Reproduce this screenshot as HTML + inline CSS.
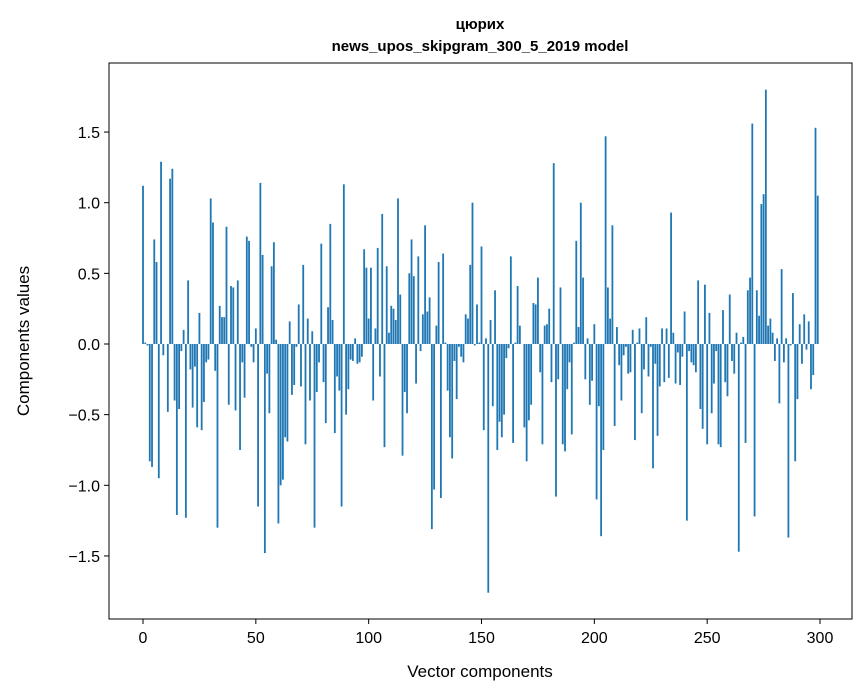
<!DOCTYPE html>
<html><head><meta charset="utf-8"><style>
body{margin:0;background:#fff;}
svg{display:block;font-family:"Liberation Sans","DejaVu Sans",sans-serif;}
</style></head><body>
<svg id="chart" width="867" height="696">
<text x="480" y="29" text-anchor="middle" font-size="15" font-weight="bold">цюрих</text>
<text x="480" y="51" text-anchor="middle" font-size="15" font-weight="bold">news_upos_skipgram_300_5_2019 model</text>
<g id="bars"></g>
<g id="axes"></g>
<text x="480" y="677" text-anchor="middle" font-size="17">Vector components</text>
<text transform="translate(29,341) rotate(-90)" text-anchor="middle" font-size="17">Components values</text>
</svg>
<script>
const values = [1.12,0.01,-0.01,-0.83,-0.87,0.74,0.58,-0.95,1.29,-0.08,
0,-0.48,1.17,1.24,-0.40,-1.21,-0.46,-0.05,0.10,-1.23,
0.45,-0.18,-0.45,-0.16,-0.59,0.22,-0.61,-0.41,-0.13,-0.11,
1.03,0.86,-0.19,-1.30,0.27,0.19,0.19,0.83,-0.43,0.41,
0.40,-0.47,0.45,-0.75,-0.13,-0.38,0.76,0.73,-0.02,-0.13,
0.11,-1.15,1.14,0.63,-1.48,-0.21,-0.49,0.55,0.72,0.03,
-1.27,-1.00,-0.96,-0.66,-0.69,0.16,-0.36,-0.29,-0.02,0.28,
-0.30,0.56,-0.71,0.18,-0.40,0.09,-1.30,-0.34,-0.13,0.71,
-0.27,-0.56,0.26,0.85,0.17,-0.63,-0.23,-0.33,-1.15,1.13,
-0.50,-0.32,-0.11,-0.12,0.04,-0.14,-0.13,-0.09,0.67,0.54,
0.18,0.54,-0.40,0.11,0.68,-0.23,0.92,-0.73,0.55,0.08,
0.27,0.25,0.17,1.03,0.35,-0.79,-0.34,-0.49,0.50,0.74,
0.48,-0.28,0.62,-0.05,0.21,0.84,0.23,0.33,-1.31,-1.03,
0.13,0.58,-1.09,0.64,0.01,-0.33,-0.66,-0.81,-0.12,-0.39,
-0.02,-0.09,-0.13,0.21,0.18,0.56,1.00,-0.01,0.28,0.01,
0.69,-0.61,0.04,-1.76,0.17,-0.44,0.38,-0.75,-0.55,-0.66,
-0.50,-0.10,-0.03,0.62,-0.70,0.01,0.41,0.13,0,-0.59,
-0.83,-0.54,-0.43,0.29,0.28,0.47,-0.20,-0.71,0.13,0.14,
0.25,-0.27,1.28,-1.08,-0.25,0.40,-0.71,-0.76,-0.32,-0.13,
-0.64,0.01,0.73,0.12,1.00,0.47,-0.25,0.04,-0.43,-0.26,
0.14,-1.10,-0.44,-1.36,-0.75,1.47,0.40,0.18,0.84,-0.58,
0.12,-0.15,-0.40,-0.08,-0.02,-0.21,-0.20,0.10,-0.68,0.01,
0.11,-0.49,-0.18,0.19,-0.23,-0.02,-0.88,-0.14,-0.65,-0.30,
0.11,-0.27,0.11,-0.24,0.93,0.08,-0.28,-0.06,-0.29,-0.09,
0.23,-1.25,-0.05,-0.13,-0.15,-0.20,0.45,-0.46,-0.60,0.42,
-0.71,0.22,-0.49,-0.28,-0.05,-0.71,-0.73,0.24,-0.27,-0.37,
0.35,-0.12,-0.21,0.08,-1.47,0.01,0.05,-0.70,0.38,0.47,
1.56,-1.22,0.38,0.20,0.99,1.06,1.80,0.13,0.18,0.08,
-0.12,0.04,-0.42,0.53,-0.13,0.04,-1.37,-0.01,0.36,-0.83,
-0.39,0.14,-0.14,0.21,-0.04,0.16,-0.32,-0.22,1.53,1.05];
const xTicks = [0,50,100,150,200,250,300];
const yTicks = [-1.5,-1.0,-0.5,0.0,0.5,1.0,1.5];
const yTickLabels = ["−1.5","−1.0","−0.5","0.0","0.5","1.0","1.5"];

const NS="http://www.w3.org/2000/svg";
const L=109,R=852,T=63,B=619;
const xs=v=>143+2.2567*v;
const ys=v=>344-141.3*v;
const bars=document.getElementById('bars');
values.forEach((v,i)=>{
  const r=document.createElementNS(NS,'rect');
  const w=0.8*2.2567;
  r.setAttribute('x',xs(i)-w/2);
  r.setAttribute('width',w);
  r.setAttribute('y',Math.min(ys(v),ys(0)));
  r.setAttribute('height',Math.abs(ys(v)-ys(0)));
  r.setAttribute('fill','#1f77b4');
  
  
  bars.appendChild(r);
});
const ax=document.getElementById('axes');
const fr=document.createElementNS(NS,'rect');
fr.setAttribute('x',L);fr.setAttribute('y',T);fr.setAttribute('width',R-L);fr.setAttribute('height',B-T);
fr.setAttribute('fill','none');fr.setAttribute('stroke','#000');fr.setAttribute('stroke-width','1');


ax.appendChild(fr);
xTicks.forEach(t=>{
  const x=xs(t);
  const l=document.createElementNS(NS,'line');
  l.setAttribute('x1',x);l.setAttribute('x2',x);l.setAttribute('y1',B);l.setAttribute('y2',B+5);l.setAttribute('stroke','#000');
  
  
  ax.appendChild(l);
  const tx=document.createElementNS(NS,'text');
  tx.setAttribute('x',x);tx.setAttribute('y',B+24);tx.setAttribute('text-anchor','middle');tx.setAttribute('font-size','16');
  tx.textContent=t;
  
  
  ax.appendChild(tx);
});
yTicks.forEach((t,i)=>{
  const y=ys(t);
  const l=document.createElementNS(NS,'line');
  l.setAttribute('x1',L-5);l.setAttribute('x2',L);l.setAttribute('y1',y);l.setAttribute('y2',y);l.setAttribute('stroke','#000');
  
  
  ax.appendChild(l);
  const tx=document.createElementNS(NS,'text');
  tx.setAttribute('x',L-9);tx.setAttribute('y',y+6);tx.setAttribute('text-anchor','end');tx.setAttribute('font-size','16');
  tx.textContent=yTickLabels[i];
  
  
  ax.appendChild(tx);
});
</script>
</body></html>
